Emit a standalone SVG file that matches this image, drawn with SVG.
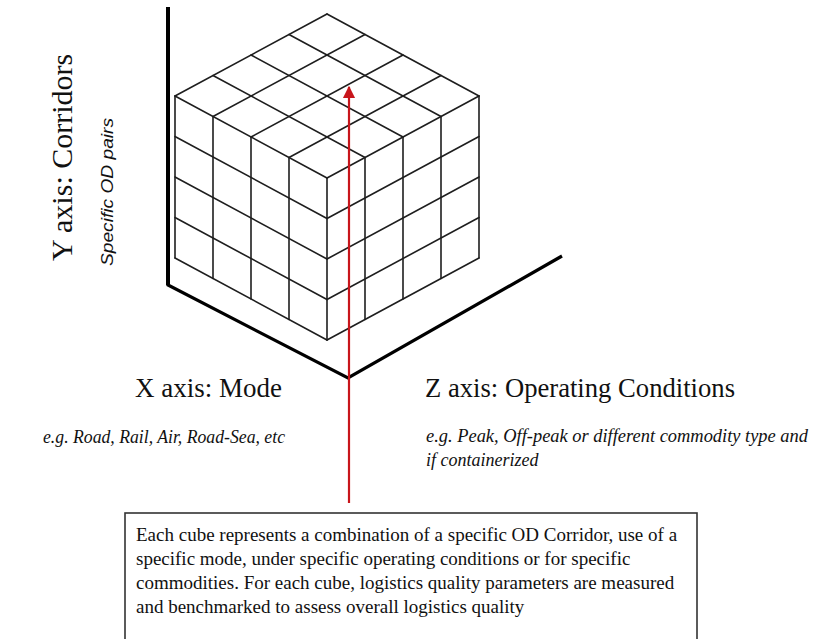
<svg xmlns="http://www.w3.org/2000/svg" width="825" height="639" viewBox="0 0 825 639">
  <defs>
    <style>
      .axis { fill: none; stroke: #000; stroke-width: 3.2; stroke-linejoin: miter; }
      .grid { fill: none; stroke: #1e1e1e; stroke-width: 1.6; stroke-linecap: round; }
      .serif { font-family: "Liberation Serif", "Times New Roman", serif; fill: #111; }
      .title { font-size: 27px; }
      .note { font-size: 18px; font-style: italic; }
      .sans-note { font-family: "Liberation Sans", Arial, sans-serif; font-style: italic; font-size: 16px; fill: #111; }
      .body { font-size: 19px; }
      .link { stroke: #c8151b; stroke-width: 2.2; fill: none; }
    </style>
    <marker id="arrowHead" viewBox="0 0 10 10" refX="9" refY="5" markerWidth="5.5" markerHeight="6.5" markerUnits="strokeWidth" orient="auto">
      <path d="M0,0 L10,5 L0,10 Z" fill="#c8151b"/>
    </marker>
  </defs>

  <rect width="825" height="639" fill="#fff"/>

  <!-- three axes meeting at the origin below the cube -->
  <g id="axes">
    <polyline class="axis" points="168,7 168,285 348,378 562,256"/>
    <line x1="168" y1="7" x2="168" y2="285" stroke="#000" stroke-width="4"/>
  </g>

  <!-- 4x4x4 cube: top face, left face, right face -->
  <g id="cube" class="grid">
    <!-- top face: T=(327,14), step along left edge (-38,20.5), along right edge (38,20.5) -->
    <path d="M327,14 L175,96 M365,34.5 L213,116.5 M403,55 L251,137 M441,75.5 L289,157.5 M479,96 L327,178"/>
    <path d="M327,14 L479,96 M289,34.5 L441,116.5 M251,55 L403,137 M213,75.5 L365,157.5 M175,96 L327,178"/>
    <!-- left face -->
    <path d="M175,96 V258 M213,116.5 V278.5 M251,137 V299 M289,157.5 V319.5 M327,178 V340"/>
    <path d="M175,136.5 L327,218.5 M175,177 L327,259 M175,217.5 L327,299.5 M175,258 L327,340"/>
    <!-- right face -->
    <path d="M365,157.5 V319.5 M403,137 V299 M441,116.5 V278.5 M479,96 V258"/>
    <path d="M327,218.5 L479,136.5 M327,259 L479,177 M327,299.5 L479,217.5 M327,340 L479,258"/>
  </g>

  <!-- connector from the note up into the cube -->
  <g id="connectors">
    <line class="link" x1="349" y1="503" x2="349" y2="87" marker-end="url(#arrowHead)"/>
  </g>

  <g id="y-axis-label">
    <text class="serif" font-size="30" transform="translate(72,261) rotate(-90)">Y axis: Corridors</text>
    <text class="sans-note" transform="translate(113,266) rotate(-90)" textLength="148" lengthAdjust="spacingAndGlyphs">Specific OD pairs</text>
  </g>

  <g id="x-axis-label">
    <text class="serif title" x="135" y="397">X axis: Mode</text>
    <text class="serif note" x="43" y="443" textLength="242" lengthAdjust="spacingAndGlyphs">e.g. Road, Rail, Air, Road-Sea, etc</text>
  </g>

  <g id="z-axis-label">
    <text class="serif title" x="425" y="397" textLength="310" lengthAdjust="spacingAndGlyphs">Z axis: Operating Conditions</text>
    <text class="serif note" x="426" y="442" textLength="382" lengthAdjust="spacingAndGlyphs">e.g. Peak, Off-peak or different commodity type and</text>
    <text class="serif note" x="426" y="466">if containerized</text>
  </g>

  <g id="cube-note">
    <rect x="125" y="513" width="572" height="140" fill="#fff" stroke="#333" stroke-width="1.6"/>
    <text class="serif body" x="136" y="541">Each cube represents a combination of a specific OD Corridor, use of a</text>
    <text class="serif body" x="136" y="565">specific mode, under specific operating conditions or for specific</text>
    <text class="serif body" x="136" y="589">commodities. For each cube, logistics quality parameters are measured</text>
    <text class="serif body" x="136" y="613">and benchmarked to assess overall logistics quality</text>
  </g>
</svg>
